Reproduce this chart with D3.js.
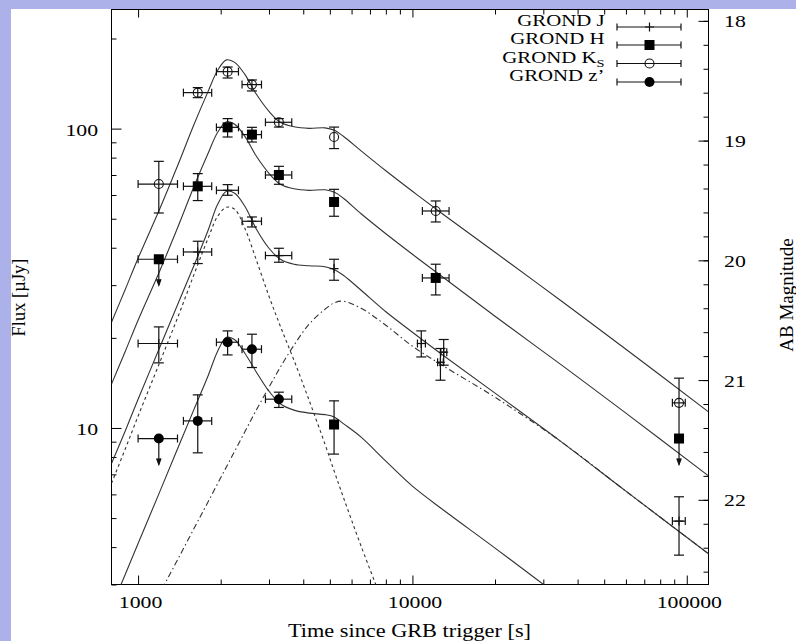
<!DOCTYPE html>
<html>
<head>
<meta charset="utf-8">
<script src="https://cdn.jsdelivr.net/npm/d3@7"></script>
<style>
  body { margin: 0; background: #fff; }
  svg text { font-family: "Liberation Serif", "Times New Roman", serif; }
</style>
</head>
<body>
<svg id="chart" width="796" height="641"></svg>
<script>
// ---- model curves ----
var modelT = [800, 900, 1000, 1200, 1400, 1600, 1800, 1950, 2100, 2250, 2450, 2700, 3000, 3300,
              3700, 4200, 4800, 5200, 5600, 6500, 8000, 10000, 13000, 20000, 35000, 60000, 120000];
var kModel = [22.56, 29.18, 36.90, 53.99, 76.00, 103.4, 133.2, 156.6, 169.7, 166.5, 151.8, 130.2, 114.2, 105.0,
              101.4, 100.2, 100.6, 98.7, 94.3, 84.3, 72.3, 61.75, 51.55, 38.64, 26.51, 18.33, 11.32];
var hModel = [14.01, 18.12, 22.91, 33.52, 47.19, 64.20, 82.70, 97.23, 105.4, 103.4, 94.25, 80.84, 70.91, 65.19,
              62.96, 62.21, 62.46, 61.28, 58.55, 51.94, 44.54, 38.04, 31.76, 23.62, 16.21, 11.21, 6.92];
var jModel = [7.61, 9.83, 12.48, 18.61, 26.11, 34.96, 45.75, 55.88, 61.75, 60.81, 55.04, 46.11, 39.84, 36.61,
              35.24, 34.83, 34.56, 33.77, 32.37, 28.85, 24.45, 20.89, 17.43, 13.07, 8.97, 6.15, 3.80];
var zModel = [2.52, 3.26, 4.11, 6.13, 8.62, 11.56, 14.95, 18.05, 20.10, 19.72, 17.77, 15.36, 13.27, 12.05,
              11.47, 11.21, 11.08, 10.87, 10.34, 9.32, 7.75, 6.39, 5.31, 3.97, 2.70, 1.85, 1.14];

// first (peak) component of the J fit, dashed
var comp1T = [800, 900, 1000, 1200, 1400, 1600, 1800, 1950, 2100, 2250, 2450, 2700, 3000, 3300,
              3700, 4200, 4800, 5200, 5600, 6500, 8000];
var comp1F = [6.53, 8.56, 10.95, 16.58, 23.62, 32.62, 43.03, 50.96, 54.61, 53.78, 46.46, 36.33, 27.54, 21.88,
              16.84, 12.38, 8.83, 7.12, 5.87, 4.03, 2.46];
// second component of the J fit, dash-dot
var comp2T = [1100, 1250, 1400, 1600, 1800, 2100, 2450, 2700, 3000, 3300, 3700, 4200, 4800, 5200,
              5600, 6500, 8000, 10000, 13000, 20000, 35000, 60000, 120000];
var comp2F = [2.41, 3.01, 3.66, 4.62, 5.67, 7.42, 9.71, 11.50, 13.68, 15.96, 18.90, 22.22, 24.93, 26.21,
              26.51, 25.12, 22.04, 18.76, 16.08, 12.67, 8.97, 6.15, 3.80];

// ---- measurements ----
var jT   = [1190, 1650, 2120, 2600, 3260, 5180, 10770, 12650, 13000, 93700];
var jF   = [19.15, 38.72, 62.23, 49.04, 37.67, 34.09, 19.15, 16.58, 17.91, 4.885];
var jLo  = [16.5, 35.42, 59.89, 46.93, 35.78, 31.15, 17.27, 14.44, 16.21, 3.76];
var jHi  = [21.76, 42.05, 65.0, 50.68, 39.84, 36.61, 21.10, 18.43, 19.75, 5.89];
var jTlo = [1000, 1463, 1930, 2393, 2912, 5180, 10430, 12350, 12690, 88630];
var jThi = [1392, 1855, 2322, 2817, 3632, 5180, 11150, 12960, 13340, 98730];

var hT   = [1190, 1650, 2120, 2600, 3260, 5180, 12160, 93700, 5180];
var hF   = [36.61, 64.16, 101.0, 95.5, 70.0, 56.88, 31.71, 9.22, 10.27];
var hLo  = [null, 57.5, 93.75, 90.22, 65.17, 50.96, 27.82, null, 8.18];
var hHi  = [null, 70.74, 108.0, 101.0, 74.82, 62.7, 35.24, null, 12.32];
var hTlo = [1000, 1463, 1930, 2393, 2912, 5180, 10870, 93700, 5180];
var hThi = [1392, 1855, 2322, 2817, 3632, 5180, 13600, 93700, 5180];
var hLimit = [true, false, false, false, false, false, false, true, false];

var kT   = [1190, 1650, 2120, 2600, 3260, 5180, 12160, 93700];
var kF   = [65.3, 131.9, 155.0, 140.3, 105.0, 93.75, 53.07, 12.13];
var kLo  = [52.26, 126.9, 147.6, 133.6, 101.2, 85.77, 48.77, 9.25];
var kHi  = [77.75, 137.1, 160.6, 145.4, 108.0, 101.2, 57.33, 14.67];
var kTlo = [1000, 1463, 1930, 2393, 2912, 5180, 10870, 88630];
var kThi = [1392, 1855, 2322, 2817, 3632, 5180, 13600, 98730];

var zT   = [1190, 1650, 2120, 2600, 3260];
var zF   = [9.22, 10.56, 19.34, 18.33, 12.48];
var zLo  = [null, 8.26, 17.54, 15.92, 11.71];
var zHi  = [null, 12.9, 21.10, 20.57, 13.17];
var zTlo = [1000, 1463, 1930, 2393, 2912];
var zThi = [1392, 1855, 2322, 2817, 3632];
var zLimit = [true, false, false, false, false];

// ---- axes ticks / labels ----
var xMajor = [1000, 10000, 100000];
var xMinor = [2000, 3000, 4000, 5000, 6000, 7000, 8000, 9000,
              20000, 30000, 40000, 50000, 60000, 70000, 80000, 90000];
var yMajor = [10, 100];
var yMinor = [3, 4, 5, 6, 7, 8, 9, 20, 30, 40, 50, 60, 70, 80, 90, 200];
var magMajor = [18, 19, 20, 21, 22];
var magMinor = d3.range(18, 22.75, 0.2);
var legendNames = ["GROND J", "GROND H", "GROND K", "GROND z\u2019"];

var W = 796, H = 641;
var pL = 111.5, pR = 708.5, pT = 9.5, pB = 584.5;
var lav = "#adb1ea";
var ink = "#111";

var svg = d3.select("#chart");
svg.append("rect").attr("width", W).attr("height", H).attr("fill", "#fff");
svg.append("rect").attr("width", W).attr("height", 9).attr("fill", lav);
svg.append("rect").attr("width", 11).attr("height", H).attr("fill", lav);

var x = d3.scaleLog().domain([800, 120000]).range([pL, pR]);
var y = d3.scaleLog().domain([3, 250]).range([pB, pT]);
// AB magnitude of a flux in microJansky
var abMag = function (f) { return 23.9 - 2.5 * Math.log10(f); };
var mag = d3.scaleLinear().domain([abMag(3), abMag(250)]).range([pB, pT]);

function widen(sel, k) {
    sel.each(function () {
        var w = this.getComputedTextLength();
        d3.select(this).attr("textLength", w * k).attr("lengthAdjust", "spacingAndGlyphs");
    });
}

function styleAxis(g) {
    g.select(".domain").remove();
    g.attr("font-size", 17).attr("font-family", "Liberation Serif, Times New Roman, serif");
    g.selectAll("line").attr("stroke", "#000");
    g.selectAll("text").attr("fill", "#000");
}

// bottom
svg.append("g").attr("transform", "translate(0," + pB + ")")
    .call(d3.axisBottom(x).tickValues(xMinor).tickSize(-5).tickFormat(""))
    .call(styleAxis);
var gxb = svg.append("g").attr("transform", "translate(0," + pB + ")")
    .call(d3.axisBottom(x).tickValues(xMajor).tickSize(-9).tickPadding(11.5).tickFormat(d3.format("d")))
    .call(styleAxis);
gxb.selectAll("text").attr("dx", 2);
widen(gxb.selectAll("text"), 1.28);

// top
svg.append("g").attr("transform", "translate(0," + pT + ")")
    .call(d3.axisTop(x).tickValues(xMinor).tickSize(-5).tickFormat(""))
    .call(styleAxis);
svg.append("g").attr("transform", "translate(0," + pT + ")")
    .call(d3.axisTop(x).tickValues(xMajor).tickSize(-8).tickFormat(""))
    .call(styleAxis);

// left
svg.append("g").attr("transform", "translate(" + pL + ",0)")
    .call(d3.axisLeft(y).tickValues(yMinor).tickSize(-5).tickFormat(""))
    .call(styleAxis);
var gyl = svg.append("g").attr("transform", "translate(" + pL + ",0)")
    .call(d3.axisLeft(y).tickValues(yMajor).tickSize(-10).tickPadding(13.5).tickFormat(d3.format("d")))
    .call(styleAxis);
gyl.selectAll("text").attr("dy", "0.38em");
widen(gyl.selectAll("text"), 1.28);

// right (AB magnitude)
svg.append("g").attr("transform", "translate(" + pR + ",0)")
    .call(d3.axisRight(mag).tickValues(magMinor).tickSize(-5).tickFormat(""))
    .call(styleAxis);
var gyr = svg.append("g").attr("transform", "translate(" + pR + ",0)")
    .call(d3.axisRight(mag).tickValues(magMajor).tickSize(-10).tickPadding(15.5).tickFormat(d3.format("d")))
    .call(styleAxis);
gyr.selectAll("text").attr("dy", "0.36em");
widen(gyr.selectAll("text"), 1.28);

// frame
svg.append("rect").attr("x", pL).attr("y", pT)
    .attr("width", pR - pL).attr("height", pB - pT)
    .attr("fill", "none").attr("stroke", "#000").attr("stroke-width", 1);

// axis titles
svg.append("text").attr("x", 409.5).attr("y", 636.5).attr("text-anchor", "middle")
    .attr("font-size", 19).attr("textLength", 243).attr("lengthAdjust", "spacingAndGlyphs")
    .text("Time since GRB trigger [s]");
svg.append("text").attr("transform", "translate(25,297.5) rotate(-90)")
    .attr("text-anchor", "middle").attr("font-size", 18.5).text("Flux [\u00b5Jy]");
svg.append("text").attr("transform", "translate(793,295) rotate(-90)")
    .attr("text-anchor", "middle").attr("font-size", 19).text("AB Magnitude");

// ---- curves ----
svg.append("clipPath").attr("id", "plotclip").append("rect")
    .attr("x", pL).attr("y", pT).attr("width", pR - pL).attr("height", pB - pT);
var plot = svg.append("g").attr("clip-path", "url(#plotclip)");

var line = d3.line()
    .x(function (d) { return x(d[0]); })
    .y(function (d) { return y(d[1]); })
    .curve(d3.curveCatmullRom.alpha(0.5));

function curve(ts, fs, dash) {
    plot.append("path")
        .datum(ts.map(function (t, i) { return [t, fs[i]]; }))
        .attr("d", line)
        .attr("fill", "none")
        .attr("stroke", "#333")
        .attr("stroke-width", 1.1)
        .attr("stroke-dasharray", dash || null);
}
curve(modelT, kModel);
curve(modelT, hModel);
curve(modelT, jModel);
curve(modelT, zModel);
curve(comp1T, comp1F, "3,3");
curve(comp2T, comp2F, "6,3,1.5,3");

// ---- error bars and markers ----
function pack(t, f, lo, hi, tlo, thi, lim) {
    return t.map(function (d, i) {
        return { t: d, f: f[i], lo: lo[i], hi: hi[i], tlo: tlo[i], thi: thi[i], lim: lim ? lim[i] : false };
    });
}

var bars = svg.append("g").attr("stroke", ink).attr("stroke-width", 1.2).attr("fill", "none");
function seg(g, x1, y1, x2, y2) {
    g.append("line").attr("x1", x1).attr("y1", y1).attr("x2", x2).attr("y2", y2);
}
function errorBars(pts) {
    pts.forEach(function (p) {
        var cx = x(p.t), cy = y(p.f);
        if (p.thi > p.tlo) {
            var a = x(p.tlo), b = x(p.thi);
            seg(bars, a, cy, b, cy);
            seg(bars, a, cy - 4, a, cy + 4);
            seg(bars, b, cy - 4, b, cy + 4);
        }
        if (p.lim) {
            var tip = cy + 26;
            seg(bars, cx, cy, cx, tip);
            bars.append("path").attr("d", "M" + (cx - 2.2) + "," + (tip - 6) + "L" + cx + "," + tip + "L" + (cx + 2.2) + "," + (tip - 6))
                .attr("fill", ink);
        } else if (p.lo != null) {
            var ylo = y(p.lo), yhi = y(p.hi);
            seg(bars, cx, ylo, cx, yhi);
            seg(bars, cx - 5, ylo, cx + 5, ylo);
            seg(bars, cx - 5, yhi, cx + 5, yhi);
        }
    });
}

var marks = svg.append("g");
function marker(kind, cx, cy) {
    if (kind === "square") {
        marks.append("rect").attr("x", cx - 5).attr("y", cy - 5).attr("width", 10).attr("height", 10).attr("fill", "#000");
    } else if (kind === "open") {
        marks.append("circle").attr("cx", cx).attr("cy", cy).attr("r", 4.5)
            .attr("fill", "none").attr("stroke", ink).attr("stroke-width", 1.1);
    } else if (kind === "dot") {
        marks.append("circle").attr("cx", cx).attr("cy", cy).attr("r", 5).attr("fill", "#000");
    } else {
        marks.append("path").attr("d", "M" + (cx - 4.5) + "," + cy + "H" + (cx + 4.5) + "M" + cx + "," + (cy - 4.5) + "V" + (cy + 4.5))
            .attr("stroke", ink).attr("stroke-width", 1.2);
    }
}

var series = [
    { pts: pack(jT, jF, jLo, jHi, jTlo, jThi), kind: "plus" },
    { pts: pack(hT, hF, hLo, hHi, hTlo, hThi, hLimit), kind: "square" },
    { pts: pack(kT, kF, kLo, kHi, kTlo, kThi), kind: "open" },
    { pts: pack(zT, zF, zLo, zHi, zTlo, zThi, zLimit), kind: "dot" }
];
series.forEach(function (s) {
    errorBars(s.pts);
    s.pts.forEach(function (p) { marker(s.kind, x(p.t), y(p.f)); });
});

// ---- legend ----
var legY = [27, 45, 63.5, 82];
var leg = svg.append("g");
series.forEach(function (s, i) {
    var ly = legY[i];
    var t = leg.append("text").attr("x", 604.5).attr("y", ly - 1)
        .attr("text-anchor", "end").attr("font-size", 16).text(legendNames[i]);
    if (i === 2) t.append("tspan").attr("font-size", 11).attr("dy", 4).text("S");
    widen(t, 1.3);
    seg(bars, 617, ly, 681, ly);
    seg(bars, 617, ly - 3.5, 617, ly + 3.5);
    seg(bars, 681, ly - 3.5, 681, ly + 3.5);
    marker(s.kind, 649.5, ly);
});
</script>
</body>
</html>
